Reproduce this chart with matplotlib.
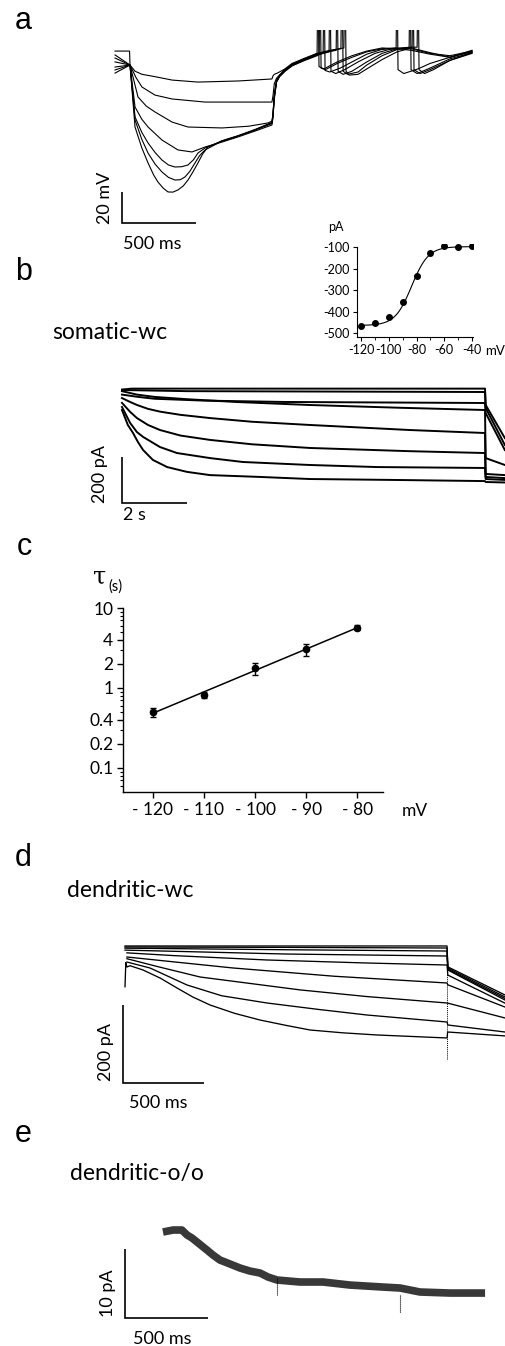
import numpy as np
import matplotlib
matplotlib.use("Agg")
import matplotlib.pyplot as plt
from matplotlib.ticker import FixedLocator, NullFormatter

# ---------------- DATA ----------------
# Panel a: membrane potential traces (time ms, V mV)
a_trace1 = [(-101,-51.0),(-3,-51.0),(0,-60.0),(34,-64.0),(81,-66.0),(169,-67.5),(284,-69.7),(459,-71.0),(730,-70.3),(959,-69.0),(966,-67.0),(975,-66.0),(1000,-65.0),(1047,-62.5),(1095,-59.0),(1182,-55.5),(1264,-52.5),(1350,-50.5),(1445,-49.0),(1453,5),(1460,-64.0),(1480,-66.5),(1541,-66.0),(1600,-62.5),(1703,-56.5),(1804,-51.5),(1900,-49.0),(2027,-52.0),(2162,-55.0),(2311,-51.5)]
a_trace2 = [(-101,-53.5),(0,-60.0),(40,-68.0),(81,-74.2),(169,-79.4),(284,-81.9),(507,-83.9),(959,-83.9),(966,-80.0),(975,-72.0),(990,-68.5),(1010,-66.5),(1047,-63.0),(1095,-59.5),(1182,-56.0),(1264,-53.0),(1350,-51.0),(1425,-49.5),(1432,5),(1440,-64.0),(1470,-66.0),(1541,-64.5),(1600,-60.0),(1703,-54.0),(1804,-50.0),(1900,-48.5),(1940,-48.5),(1946,5),(1953,-63.0),(1990,-65.5),(2050,-63.0),(2162,-57.0),(2311,-52.0)]
a_trace3 = [(-101,-55.5),(0,-60.0),(54,-80.6),(110,-86.5),(169,-90.3),(284,-96.8),(392,-100.0),(622,-100.6),(800,-99.5),(932,-97.4),(959,-96.2),(966,-92.0),(975,-80.0),(990,-70.0),(1010,-67.0),(1047,-63.5),(1095,-60.0),(1182,-56.5),(1264,-53.5),(1340,-51.5),(1393,-50.5),(1399,5),(1406,-64.0),(1440,-66.0),(1500,-64.0),(1600,-58.0),(1703,-52.5),(1804,-49.5),(1906,-48.5),(1912,5),(1919,-63.0),(1960,-65.5),(2027,-63.0),(2162,-57.0),(2311,-52.5)]
a_trace4 = [(-101,-58.0),(0,-60.0),(34,-87.1),(80,-95.0),(122,-100.0),(216,-108.4),(324,-114.8),(419,-116.1),(507,-112.9),(622,-109.7),(730,-106.4),(845,-102.6),(959,-98.7),(966,-94.0),(975,-82.0),(990,-71.0),(1010,-67.5),(1047,-64.0),(1095,-60.5),(1182,-56.5),(1264,-53.5),(1345,-51.5),(1351,5),(1358,-64.0),(1390,-65.5),(1450,-63.0),(1541,-58.0),(1655,-52.5),(1750,-50.0),(1886,-48.5),(1892,5),(1899,-63.0),(1940,-65.5),(2027,-62.0),(2162,-56.0),(2311,-52.0)]
a_trace5 = [(-101,-61.3),(0,-60.0),(34,-93.5),(80,-103.5),(122,-110.3),(170,-116.5),(216,-121.3),(260,-124.5),(304,-125.8),(350,-125.6),(392,-124.5),(430,-121.0),(459,-116.8),(507,-113.5),(622,-109.2),(730,-105.8),(845,-102.0),(959,-97.8),(966,-93.0),(975,-81.0),(990,-71.0),(1010,-67.5),(1047,-64.0),(1095,-60.5),(1182,-57.0),(1264,-54.0),(1305,-52.0),(1311,5),(1318,-63.5),(1350,-64.5),(1420,-62.0),(1500,-58.0),(1600,-53.0),(1700,-50.0),(1798,-49.0),(1804,5),(1811,-63.0),(1850,-65.5),(1946,-62.5),(2027,-59.0),(2162,-55.0),(2311,-51.0)]
a_trace6 = [(-101,-63.2),(0,-60.0),(34,-95.5),(80,-108.0),(122,-116.8),(170,-124.0),(216,-129.0),(260,-132.5),(304,-134.2),(340,-134.0),(372,-132.2),(405,-128.5),(439,-123.2),(470,-118.5),(507,-114.8),(622,-109.0),(730,-105.8),(845,-101.8),(959,-97.2),(966,-92.0),(975,-80.0),(990,-70.5),(1010,-67.0),(1047,-63.5),(1095,-60.0),(1182,-56.5),(1264,-53.0),(1278,-52.5),(1284,5),(1291,-62.0),(1320,-63.0),(1400,-59.0),(1500,-55.0),(1600,-51.5),(1703,-49.5),(1804,-49.0),(1900,-49.5),(2027,-52.5),(2162,-54.0),(2311,-51.0)]
a_trace7 = [(-101,-65.2),(0,-60.0),(34,-100.0),(80,-113.5),(122,-123.2),(160,-131.0),(189,-135.5),(225,-139.5),(257,-141.9),(290,-142.0),(324,-140.6),(360,-138.0),(392,-134.2),(425,-129.0),(459,-123.2),(490,-117.5),(527,-112.9),(622,-108.8),(730,-105.6),(845,-101.6),(959,-97.0),(966,-92.0),(975,-79.0),(990,-70.0),(1010,-66.5),(1047,-63.0),(1095,-59.5),(1182,-56.0),(1264,-52.5),(1270,5),(1277,-61.0),(1310,-62.5),(1400,-58.0),(1500,-54.0),(1600,-51.0),(1703,-49.0),(1804,-49.5),(1900,-50.5),(2027,-53.0),(2162,-55.0),(2311,-50.5)]

# Panel b inset: steady-state I-V
iv_voltage = [-120, -110, -100, -90, -80, -70, -60, -50, -40]
iv_current = [-466, -452, -426, -357, -232, -126, -95, -98, -96]
iv_fit_vhalf, iv_fit_k, iv_fit_imin, iv_fit_imax = -83.5, 6.0, -465.0, -97.0

# Panel b: somatic whole-cell currents (time s, I pA)
b_trace1 = [(0,2),(0.3,6),(11.17,6),(11.19,-65),(11.78,-209)]
b_trace2 = [(0,0),(2.0,-5),(11.17,-8.7),(11.19,-78),(11.78,-239)]
b_trace3 = [(0,-20),(0.5,-30),(1.0,-38),(2.5,-46),(5.0,-52),(11.17,-56.5),(11.19,-100),(11.78,-261)]
b_trace4 = [(0,-5),(0.46,-20),(1.0,-30),(2.0,-40),(3.5,-52),(5.78,-65.2),(8.5,-77),(11.17,-87.0),(11.19,-296),(11.78,-326)]
b_trace5 = [(0,-35),(0.25,-52),(0.46,-65),(0.8,-82),(1.17,-94),(1.8,-108),(2.71,-122),(4.0,-138),(5.78,-152),(8.86,-174),(11.17,-187),(11.19,-365),(11.78,-370)]
b_trace6 = [(0,-56),(0.25,-95),(0.46,-122),(0.8,-152),(1.17,-174),(1.8,-198),(2.71,-217),(4.0,-236),(5.78,-252),(8.86,-266),(11.17,-274),(11.19,-378),(11.78,-383)]
b_trace7 = [(0,-74),(0.25,-143),(0.46,-183),(0.65,-204),(1.17,-248),(1.69,-274),(2.71,-296),(3.72,-313),(5.78,-326),(7.85,-335),(11.17,-339),(11.19,-387),(11.78,-391)]
b_trace8 = [(0,-87),(0.18,-152),(0.34,-187),(0.49,-226),(0.65,-261),(0.95,-304),(1.39,-335),(2.0,-356),(2.71,-370),(4.25,-378),(5.78,-387),(8.34,-391),(11.17,-396),(11.19,-400),(11.78,-402)]

# Panel c: activation time constant
c_voltage = [-120, -110, -100, -90, -80]
c_tau = [0.50, 0.82, 1.76, 3.04, 5.67]
c_sem = [0.06, 0.06, 0.30, 0.55, 0.40]
c_yticks = [0.1, 0.2, 0.4, 1, 2, 4, 10]
c_ytick_labels = ["0.1", "0.2", "0.4", "1", "2", "4", "10"]
c_xtick_labels = ["- 120", "- 110", "- 100", "- 90", "- 80"]

# Panel d: dendritic whole-cell currents (time ms, I pA)
d_trace1 = [(0,2.6),(2000,2.6),(2005,-51),(2360,-123)]
d_trace2 = [(0,0),(1000,-1),(2000,-2.6),(2005,-54),(2360,-128)]
d_trace3 = [(0,-3),(1000,-7),(2000,-10.3),(2005,-57),(2360,-132)]
d_trace4 = [(0,-8),(1000,-18),(2000,-23.1),(2005,-59),(2360,-136)]
d_trace5 = [(12,-15),(300,-22),(882,-33.3),(1500,-41),(2000,-46.2),(2005,-72),(2360,-144)]
d_trace6 = [(12,-25.6),(300,-38),(671,-53.8),(1300,-75),(2000,-92.3),(2005,-97),(2360,-154)]
d_trace7 = [(12,-30),(200,-50),(466,-76.9),(1087,-110),(1500,-127),(2000,-143.6),(2005,-144),(2360,-182)]
d_trace8 = [(12,-38.5),(155,-53.8),(385,-97.4),(600,-125),(882,-143.6),(1200,-160),(1503,-174.4),(2000,-192.3),(2005,-200),(2360,-218)]
d_trace9 = [(0,-102),(5,-40),(12,-51.3),(31,-48),(112,-59),(220,-80),(323,-105.1),(420,-128),(528,-148.7),(680,-170),(838,-187.2),(1000,-201),(1149,-212.8),(1350,-220),(1565,-225.6),(2000,-233.3),(2004,-218),(2360,-228)]
d_offstep_time = 2001
d_offstep_range = (-20, -290)

# Panel e: dendritic outside-out patch current (time ms, I pA)
e_time = [0, 60, 114, 145, 175, 205, 265, 301, 343, 404, 464, 524, 584, 633, 687, 825, 964, 1126, 1325, 1428, 1548, 1729, 1940]
e_current = [0, 0.29, 0.29, -0.43, -0.87, -1.45, -2.61, -3.33, -4.06, -4.64, -5.22, -5.66, -5.94, -6.53, -6.96, -7.25, -7.25, -7.69, -7.98, -8.12, -8.70, -8.85, -8.85]
e_glitch_time = [687, 1428]
e_glitch_current = [-9.2, -11.7]

# ---------------- FIGURE ----------------
W, H = 505, 1346
plt.rcParams['font.family'] = ['Lato', 'DejaVu Sans']
plt.rcParams['axes.unicode_minus'] = False
fig = plt.figure(figsize=(W / 100, H / 100), dpi=100)
fig.patch.set_facecolor('white')


def px_axes(x0, y0, x1, y1):
    return fig.add_axes([x0 / W, 1 - y1 / H, (x1 - x0) / W, (y1 - y0) / H])


def ftext(x, y, s, **kw):
    return fig.text(x / W, 1 - y / H, s, **kw)


def plot_traces(ax, traces, lw, color='black'):
    for tr in traces:
        arr = np.array(tr, dtype=float)
        ax.plot(arr[:, 0], arr[:, 1], color=color, lw=lw, solid_joinstyle='round')


def scale_bar(ax, x0, y0, dx, dy, lw=1.2):
    ax.plot([x0, x0, x0 + dx], [y0 + dy, y0, y0], color='black', lw=lw,
            solid_capstyle='butt', solid_joinstyle='miter', clip_on=False)


LABEL_FS = 22
LABEL_FAMILY = ['Liberation Sans', 'DejaVu Sans']
SCALE_FS = 13
TITLE_FS = 16.5


def panel_label(x, y, s):
    ftext(x, y, s, fontsize=LABEL_FS, va='baseline', ha='left', family=LABEL_FAMILY)


# ---- Panel a ----
ax_a = px_axes(100, 30, 485, 240)
plot_traces(ax_a, [a_trace1, a_trace2, a_trace3, a_trace4, a_trace5, a_trace6, a_trace7], lw=0.8)
ax_a.set_xlim(-202.7, 2398.6)
ax_a.set_ylim(-172.9, -37.4)
ax_a.axis('off')
scale_bar(ax_a, -54, -162.0, 500, 20)
panel_label(15, 29, 'a')
ftext(104.5, 197.5, '20 mV', fontsize=SCALE_FS, rotation=90, ha='center', va='center')
ftext(152, 244, '500 ms', fontsize=SCALE_FS, ha='center', va='center')

# ---- Panel b inset ----
ax_in = px_axes(357, 244, 473, 337)
ax_in.plot(iv_voltage, iv_current, 'o', color='black', ms=4)
vfit = np.linspace(-120, -40, 200)
ifit = iv_fit_imin + (iv_fit_imax - iv_fit_imin) / (1 + np.exp((iv_fit_vhalf - vfit) / iv_fit_k))
ax_in.plot(vfit, ifit, color='black', lw=0.8)
ax_in.set_xlim(-122.9, -39.3)
ax_in.set_ylim(-518.7, -84.7)
for s in ['top', 'right']:
    ax_in.spines[s].set_visible(False)
ax_in.spines['left'].set_bounds(-518.7, -100)
for s in ['left', 'bottom']:
    ax_in.spines[s].set_linewidth(0.8)
ax_in.set_xticks([-120, -100, -80, -60, -40])
ax_in.set_xticklabels(['-120', '-100', '-80', '-60', '-40'])
ax_in.xaxis.set_minor_locator(FixedLocator([-110, -90, -70, -50]))
ax_in.set_yticks([-100, -200, -300, -400, -500])
ax_in.set_yticklabels(['-100', '-200', '-300', '-400', '-500'])
ax_in.tick_params(axis='both', which='major', labelsize=9, length=3, width=0.8, pad=2)
ax_in.tick_params(axis='both', which='minor', length=2, width=0.6)
ax_in.patch.set_alpha(0)
ftext(336, 227, 'pA', fontsize=9, ha='center', va='center')
ftext(485, 351, 'mV', fontsize=9.5, ha='left', va='center')

# ---- Panel b traces ----
ax_b = px_axes(110, 380, 505, 510)
plot_traces(ax_b, [b_trace1, b_trace2, b_trace3, b_trace4, b_trace5, b_trace6, b_trace7, b_trace8], lw=1.4)
ax_b.set_xlim(-0.369, 11.785)
ax_b.set_ylim(-521.7, 43.5)
ax_b.axis('off')
scale_bar(ax_b, 0, -491.3, 2, 200)
panel_label(15, 280, 'b')
ftext(52, 339, 'somatic-wc', fontsize=TITLE_FS, ha='left', va='baseline')
ftext(100, 474, '200 pA', fontsize=SCALE_FS, rotation=90, ha='center', va='center')
ftext(123, 515, '2 s', fontsize=SCALE_FS, ha='left', va='center')

# ---- Panel c ----
ax_c = px_axes(123, 608, 383, 792)
ax_c.set_yscale('log')
ax_c.errorbar(c_voltage, c_tau, yerr=c_sem, fmt='o', color='black', ms=4.5,
              capsize=2.5, elinewidth=1.0, capthick=1.0)
coef = np.polyfit(c_voltage, np.log10(c_tau), 1)
vline = np.array([c_voltage[0], c_voltage[-1]], dtype=float)
ax_c.plot(vline, 10 ** np.polyval(coef, vline), color='black', lw=1.1)
ax_c.set_xlim(-125.8, -75.0)
ax_c.set_ylim(0.0501, 10)
for s in ['top', 'right']:
    ax_c.spines[s].set_visible(False)
for s in ['left', 'bottom']:
    ax_c.spines[s].set_linewidth(1.0)
ax_c.set_xticks(c_voltage)
ax_c.set_xticklabels(c_xtick_labels)
ax_c.yaxis.set_major_locator(FixedLocator(c_yticks))
ax_c.set_yticklabels(c_ytick_labels)
minor = [m * 10.0 ** e for e in (-2, -1, 0) for m in range(1, 10)]
minor = [v for v in minor if 0.05 <= v <= 10 and v not in c_yticks]
ax_c.yaxis.set_minor_locator(FixedLocator(minor))
ax_c.yaxis.set_minor_formatter(NullFormatter())
ax_c.tick_params(axis='both', which='major', labelsize=12.5, length=4, width=1.0, pad=3)
ax_c.tick_params(axis='y', which='minor', length=2.5, width=0.8)
ax_c.patch.set_alpha(0)
panel_label(17, 555, 'c')
ftext(402, 811, 'mV', fontsize=12.5, ha='left', va='center')
ftext(93, 583, '\u03c4', fontsize=17, ha='left', va='baseline', family='DejaVu Serif')
ftext(108, 591, '(s)', fontsize=10.5, ha='left', va='baseline')

# ---- Panel d ----
ax_d = px_axes(110, 930, 505, 1090)
plot_traces(ax_d, [d_trace1, d_trace2, d_trace3, d_trace4, d_trace5, d_trace6, d_trace7, d_trace8, d_trace9], lw=0.95)
ax_d.plot([d_offstep_time, d_offstep_time], d_offstep_range, color='black', lw=0.7, ls=(0, (1.0, 1.0)))
ax_d.set_xlim(-93.2, 2360)
ax_d.set_ylim(-366.7, 43.6)
ax_d.axis('off')
scale_bar(ax_d, -12.4, -348.7, 500, 200)
panel_label(15, 866, 'd')
ftext(67, 897, 'dendritic-wc', fontsize=TITLE_FS, ha='left', va='baseline')
ftext(106.5, 1052, '200 pA', fontsize=SCALE_FS, rotation=90, ha='center', va='center')
ftext(158, 1103, '500 ms', fontsize=SCALE_FS, ha='center', va='center')

# ---- Panel e ----
ax_e = px_axes(110, 1215, 505, 1330)
ax_e.plot(e_time, e_current, color='0.22', lw=5.5, solid_joinstyle='round', solid_capstyle='butt')
for gt, gi in zip(e_glitch_time, e_glitch_current):
    ax_e.plot([gt, gt], [gi + 2.5, gi], color='black', lw=0.8, ls=(0, (1.0, 0.8)))
ax_e.set_xlim(-319, 2060)
ax_e.set_ylim(-14.21, 2.47)
ax_e.axis('off')
scale_bar(ax_e, -229, -12.47, 500, 10)
panel_label(15, 1142, 'e')
ftext(70, 1180, 'dendritic-o/o', fontsize=TITLE_FS, ha='left', va='baseline')
ftext(107.5, 1293, '10 pA', fontsize=SCALE_FS, rotation=90, ha='center', va='center')
ftext(162, 1339, '500 ms', fontsize=SCALE_FS, ha='center', va='center')

fig.savefig('out.png', dpi=100, facecolor='white')
